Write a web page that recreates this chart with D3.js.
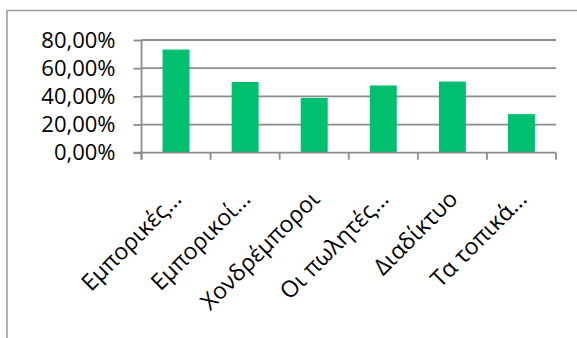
<!DOCTYPE html>
<html>
<head>
<meta charset="utf-8">
<script src="https://cdn.jsdelivr.net/npm/d3@7"></script>
<style>
  html, body { margin: 0; padding: 0; background: #fff; }
  svg { display: block; }
  text { font-family: "Open Sans", "Noto Sans", sans-serif; fill: #000; }
</style>
</head>
<body>
<svg id="chart" width="577" height="338"></svg>
<script>
// Share of respondents per information source
const categories = ["Εμπορικές...", "Εμπορικοί...", "Χονδρέμποροι", "Οι πωλητές...", "Διαδίκτυο", "Τα τοπικά..."];
const values = [0.732, 0.502, 0.389, 0.477, 0.505, 0.274];
const yTicks = [0, 0.2, 0.4, 0.6, 0.8];
const yTickLabels = ["0,00%", "20,00%", "40,00%", "60,00%", "80,00%"];

const svg = d3.select("#chart");
const gridColor = "#8c8c8c";
const barColor = "#00bf6f";
const tickFontSize = 22;
const labelFontSize = 23;

// Outer frame of the chart area (runs past the right and bottom edges)
svg.append("rect")
  .attr("x", 7).attr("y", 10.5)
  .attr("width", 600).attr("height", 400)
  .attr("fill", "none")
  .attr("stroke", "#9a9a9a")
  .attr("stroke-width", 1.5);

const plot = { left: 141.5, right: 556, top: 40, bottom: 152.7 };

const x = d3.scaleBand()
  .domain(categories)
  .range([plot.left, plot.right])
  .padding(0);

const y = d3.scaleLinear()
  .domain([0, 0.8])
  .range([plot.bottom, plot.top]);

// Horizontal gridlines
svg.append("g")
  .selectAll("line")
  .data(yTicks.filter(d => d > 0))
  .join("line")
  .attr("x1", plot.left).attr("x2", plot.right)
  .attr("y1", d => y(d)).attr("y2", d => y(d))
  .attr("stroke", gridColor)
  .attr("stroke-width", 1.8);

// Bars
const barW = x.bandwidth() * 0.39;
svg.append("g")
  .selectAll("rect")
  .data(values)
  .join("rect")
  .attr("x", (d, i) => x(categories[i]) + (x.bandwidth() - barW) / 2)
  .attr("y", d => y(d))
  .attr("width", barW)
  .attr("height", d => y(0) - y(d))
  .attr("fill", barColor);

// Y axis
const yAxis = d3.axisLeft(y)
  .tickValues(yTicks)
  .tickSize(8)
  .tickPadding(18)
  .tickFormat((d, i) => yTickLabels[i]);

const gy = svg.append("g")
  .attr("transform", `translate(${plot.left},0)`)
  .call(yAxis);
gy.select(".domain").attr("stroke", gridColor).attr("stroke-width", 1.8)
  .attr("d", `M0,${plot.top}V${plot.bottom + 7}`);
gy.selectAll(".tick line").attr("stroke", gridColor).attr("stroke-width", 1.8);
gy.selectAll(".tick text")
  .attr("font-size", tickFontSize)
  .attr("font-family", "\"Open Sans\", sans-serif")
  .attr("fill", "#000");

// X axis baseline and category boundary ticks
const boundaries = categories.map(c => x(c)).concat([plot.right]);
const gx = svg.append("g");
gx.append("line")
  .attr("x1", plot.left - 8).attr("x2", plot.right)
  .attr("y1", y(0)).attr("y2", y(0))
  .attr("stroke", gridColor).attr("stroke-width", 1.8);
gx.selectAll("line.tk")
  .data(boundaries)
  .join("line")
  .attr("class", "tk")
  .attr("x1", d => d).attr("x2", d => d)
  .attr("y1", y(0)).attr("y2", y(0) + 7)
  .attr("stroke", gridColor).attr("stroke-width", 1.8);

// Rotated category labels
gx.selectAll("text")
  .data(categories)
  .join("text")
  .attr("transform", d => `translate(${x(d) + x.bandwidth() / 2 + 1},${y(0) + 42}) rotate(-45)`)
  .attr("text-anchor", "end")
  .attr("dy", "0.35em")
  .attr("font-size", labelFontSize)
  .text(d => d);
</script>
</body>
</html>
